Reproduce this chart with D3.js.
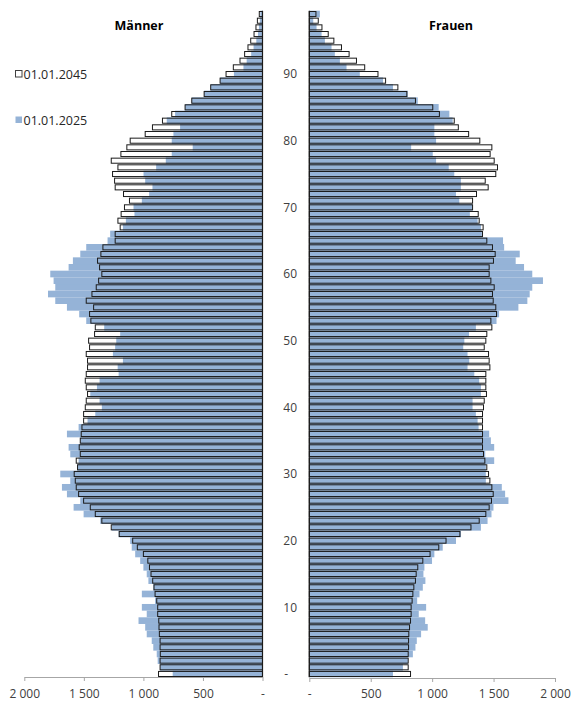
<!DOCTYPE html>
<html><head><meta charset="utf-8">
<script src="https://cdn.jsdelivr.net/npm/d3@7"></script>
<style>
body{margin:0;background:#fff}
svg{display:block}
text{font-family:"Open Sans",sans-serif}
</style>
</head><body>
<svg id="chart" width="574" height="702"></svg>
<script>
// ---- data ----
const ages = [0,1,2,3,4,5,6,7,8,9,10,11,12,13,14,15,16,17,18,19,20,21,22,23,24,25,26,27,28,29,30,31,32,33,34,35,36,37,38,39,40,41,42,43,44,45,46,47,48,49,50,51,52,53,54,55,56,57,58,59,60,61,62,63,64,65,66,67,68,69,70,71,72,73,74,75,76,77,78,79,80,81,82,83,84,85,86,87,88,89,90,91,92,93,94,95,96,97,98,99];
const ageTicks = [0,10,20,30,40,50,60,70,80,90];
const valueTicks = [0,500,1000,1500,2000];
const seriesNames = ["01.01.2045","01.01.2025"];
const panelTitles = ["Männer","Frauen"];

const maenner2045 = [873,860,860,858,860,860,866,869,871,880,880,888,902,911,922,936,949,963,1000,1051,1090,1203,1270,1349,1404,1446,1502,1544,1564,1572,1581,1553,1564,1530,1539,1530,1522,1516,1502,1502,1488,1480,1469,1480,1488,1480,1469,1469,1480,1452,1460,1410,1404,1441,1452,1418,1480,1432,1396,1376,1349,1368,1385,1357,1340,1237,1237,1195,1214,1187,1159,1117,1167,1237,1242,1259,1214,1270,1189,1139,1111,985,924,840,762,650,594,490,435,356,306,245,189,150,122,99,71,55,43,27];
const maenner2025 = [754,860,880,888,917,930,972,985,1041,972,1013,902,1013,917,958,972,1000,1027,1069,1098,1111,1208,1265,1362,1502,1586,1530,1642,1684,1614,1698,1553,1544,1614,1628,1530,1642,1544,1469,1404,1349,1368,1446,1390,1368,1208,1216,1172,1256,1237,1228,1195,1329,1480,1539,1642,1740,1801,1740,1754,1782,1628,1592,1530,1480,1301,1279,1172,1147,1075,1083,1013,952,924,985,999,893,812,762,586,762,748,692,804,734,650,594,490,435,356,240,160,133,95,75,52,38,30,22,18];
const frauen2045 = [824,805,805,805,808,808,810,816,824,829,829,837,843,851,864,870,883,924,983,1054,1113,1226,1316,1383,1437,1464,1483,1497,1486,1470,1459,1445,1429,1418,1410,1410,1410,1410,1410,1410,1418,1424,1442,1437,1437,1437,1470,1464,1459,1424,1437,1445,1486,1478,1524,1518,1497,1491,1505,1478,1464,1464,1499,1513,1491,1445,1410,1415,1383,1375,1329,1329,1361,1456,1432,1518,1532,1505,1472,1486,1388,1297,1213,1180,1059,1005,864,794,721,621,559,451,384,324,262,200,154,103,73,54];
const frauen2025 = [681,762,802,843,864,875,910,964,943,891,951,878,897,924,945,929,937,999,1018,1086,1194,1235,1397,1451,1483,1499,1621,1594,1567,1437,1437,1437,1505,1432,1505,1478,1464,1378,1370,1356,1329,1329,1397,1397,1383,1343,1288,1302,1288,1253,1262,1300,1356,1524,1545,1702,1775,1794,1815,1902,1815,1748,1680,1713,1586,1577,1405,1397,1370,1307,1329,1221,1194,1234,1234,1180,1135,1032,1005,829,1032,1018,1018,1167,1140,1053,883,802,681,600,411,303,249,208,181,127,100,59,32,86];

// ---- layout ----
const svg = d3.select("#chart");
const blue = "#95b3d7";
const outline = "#1a1a1a";
const axisGrey = "#a6a6a6";
const labelCol = "#404040";

const y = d3.scaleBand().domain(ages).range([677.3, 10.7]).padding(0);
const xL = d3.scaleLinear().domain([0, 2000]).range([262.5, 24.3]);
const xR = d3.scaleLinear().domain([0, 2000]).range([309.3, 555]);

const fmt = v => v === 0 ? "-" : d3.format(",")(v).replace(",", "\u00a0");

function panel(x, data25, data45, left) {
  const g = svg.append("g");
  const rows25 = ages.map((a, i) => ({a, v: data25[i]}));
  const rows45 = ages.map((a, i) => ({a, v: data45[i]}));
  g.selectAll("rect.b").data(rows25).join("rect")
    .attr("class", "b")
    .attr("x", d => left ? x(d.v) : x(0))
    .attr("width", d => Math.abs(x(d.v) - x(0)))
    .attr("y", d => y(d.a))
    .attr("height", y.bandwidth())
    .attr("fill", blue);
  g.selectAll("rect.o").data(rows45).join("rect")
    .attr("class", "o")
    .attr("x", d => left ? x(d.v) : x(0))
    .attr("width", d => Math.abs(x(d.v) - x(0)))
    .attr("y", d => y(d.a) + 0.8)
    .attr("height", y.bandwidth() - 1.6)
    .attr("fill", "none")
    .attr("stroke", outline)
    .attr("stroke-width", 1);
  g.append("line")
    .attr("x1", x(0)).attr("x2", x(0))
    .attr("y1", y.range()[1]).attr("y2", y.range()[0])
    .attr("stroke", outline).attr("stroke-width", 1.2);

  const ax = svg.append("g")
    .attr("transform", `translate(0,${left ? 677 : 678})`)
    .call(d3.axisBottom(x).tickValues(valueTicks).tickFormat(fmt).tickSize(4).tickSizeOuter(0).tickPadding(left ? 8 : 7));
  ax.select(".domain").attr("stroke", axisGrey);
  ax.selectAll(".tick line").attr("stroke", axisGrey);
  ax.selectAll(".tick text").attr("fill", labelCol).style("font-size", "12px").style("font-family", "'Open Sans',sans-serif");
}

panel(xL, maenner2025, maenner2045, true);
panel(xR, frauen2025, frauen2045, false);

// age labels
svg.append("g").selectAll("text").data(ageTicks).join("text")
  .attr("x", d => d === 0 ? 288 : 297)
  .attr("y", d => y(d) + y.bandwidth() / 2)
  .attr("dy", "0.35em")
  .attr("text-anchor", "end")
  .attr("fill", labelCol)
  .style("font-size", "12px")
  .text(d => d === 0 ? "-" : d);

// titles
svg.append("text").attr("x", 139).attr("y", 29.5).attr("text-anchor", "middle")
  .style("font-size", "12.5px").style("font-weight", "bold").attr("fill", "#000").text(panelTitles[0]);
svg.append("text").attr("x", 451).attr("y", 29.5).attr("text-anchor", "middle")
  .style("font-size", "12.5px").style("font-weight", "bold").attr("fill", "#000").text(panelTitles[1]);

// legend
const leg = svg.append("g");
const legY = [74, 120];
seriesNames.forEach((n, i) => {
  leg.append("rect").attr("x", 15.5).attr("y", legY[i] - 3.5).attr("width", 6.5).attr("height", 6.5)
    .attr("fill", i === 0 ? "#fff" : blue)
    .attr("stroke", i === 0 ? "#404040" : "none");
  leg.append("text").attr("x", 23.5).attr("y", legY[i]).attr("dy", "0.36em")
    .attr("fill", "#262626").style("font-size", "12.5px").text(n);
});
</script>
</body></html>
